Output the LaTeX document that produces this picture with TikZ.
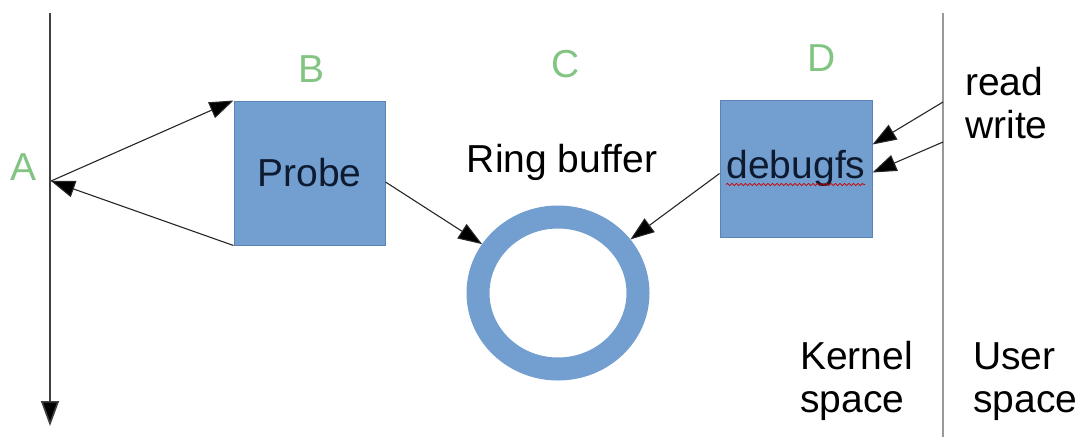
\documentclass[tikz,border=0pt]{standalone}
\usepackage{fontspec}
\setmainfont{Liberation Sans}
\usetikzlibrary{arrows.meta,shapes.geometric,decorations.pathmorphing}
\definecolor{boxblue}{HTML}{729FCF}
\definecolor{boxedge}{HTML}{5A84B4}
\definecolor{lblgreen}{RGB}{130,196,130}
\definecolor{txtdark}{HTML}{0E1A30}
\tikzset{
  big/.style={font=\fontsize{39}{43}\selectfont},
  letter/.style={big, text=lblgreen, anchor=base, inner sep=0pt},
  plain/.style={big, text=black, inner sep=0pt},
  blockbox/.style={draw=boxedge, line width=1pt, fill=boxblue, rectangle, inner sep=0pt, big, text=txtdark},
  conn/.style={draw=black!85, line width=1.1pt, -{Triangle[length=24pt,width=17pt,fill=black]}},
}
\begin{document}
\begin{tikzpicture}[x=1pt,y=-1pt]
\useasboundingbox (0,0) rectangle (1079,437);
% timeline and separator
\coordinate (top) at (50,13);
\coordinate (bot) at (50,426);
\draw[black!75, line width=1.6pt, -{Triangle[length=25pt,width=18pt,fill=black]}] (top) -- (bot);
\coordinate (septop) at (943,13);
\coordinate (sepbot) at (943,437);
\draw[black!40, line width=2.4pt] (septop) -- (sepbot);
\coordinate (A) at (51,181);
\coordinate (r1) at (943,102);
\coordinate (r2) at (943,142);
% labels
\node[letter] (la) at (24,180) {A};
\node[letter] (lb) at (312,82) {B};
\node[letter] (lc) at (566,77) {C};
\node[letter] (ld) at (822,71) {D};
% boxes
\node[blockbox, minimum width=151pt, minimum height=144pt] (probe) at (309.5,173) {Probe};
\node[blockbox, minimum width=152pt, minimum height=137pt] (debugfs) at (796,168.5) {debugfs};
\draw[red!80!black, line width=0.7pt, decorate, decoration={snake, amplitude=1.1pt, segment length=4.5pt}]
  ([xshift=-70pt,yshift=-16pt]debugfs.center) -- ([xshift=69pt,yshift=-16pt]debugfs.center);
% ring
\node[ellipse, draw=boxblue, line width=23pt, minimum width=160pt, minimum height=152pt, inner sep=0pt] (ring) at (558,293) {};
\node[plain, anchor=base] (rbtxt) at (562,172) {Ring buffer};
% texts right (base = baseline of the last line)
\node[plain, anchor=base west, align=left] (rw) at (965,138) {read\\write};
\node[plain, anchor=base west, align=left] (ks) at (800,412) {Kernel\\space};
\node[plain, anchor=base west, align=left] (us) at (973,412) {User\\space};
% connectors
\draw[conn] (A) -- (probe.north west);
\draw[conn] (probe.south west) -- (A);
\draw[conn] ([yshift=-9pt]probe.east) -- (ring);
\draw[conn] ([yshift=-5pt]debugfs.west) -- (ring);
\draw[conn] (r1) -- ([yshift=-45pt]debugfs.north east);
\draw[conn] (r2) -- ([yshift=-4pt]debugfs.east);
\end{tikzpicture}
\end{document}
